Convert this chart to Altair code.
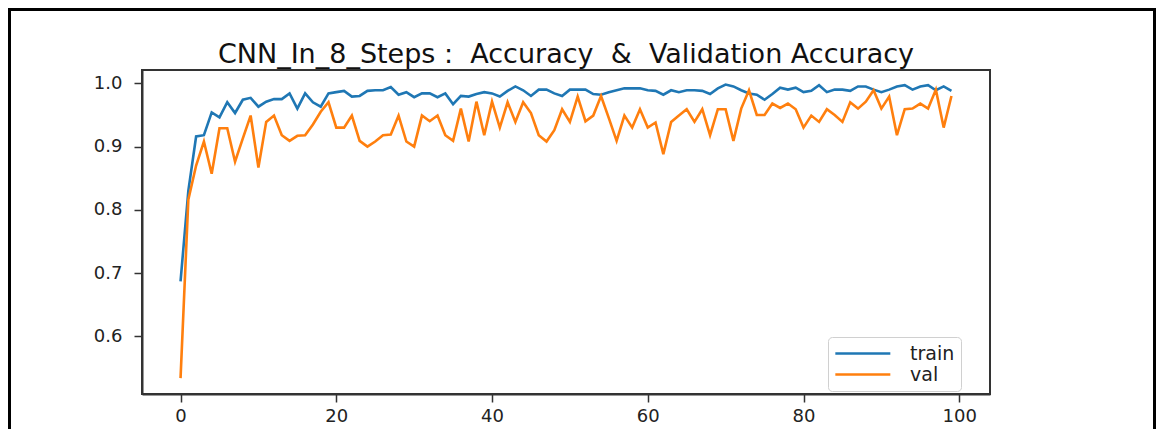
import altair as alt
import pandas as pd

epochs = list(range(100))
train = [0.687, 0.830, 0.916, 0.918, 0.954, 0.946, 0.970, 0.953, 0.974, 0.977,
         0.963, 0.971, 0.975, 0.975, 0.984, 0.960, 0.984, 0.970, 0.963, 0.984,
         0.986, 0.988, 0.979, 0.980, 0.988, 0.989, 0.989, 0.994, 0.982, 0.986,
         0.978, 0.984, 0.984, 0.978, 0.984, 0.967, 0.980, 0.979, 0.983, 0.986,
         0.984, 0.979, 0.988, 0.995, 0.989, 0.980, 0.990, 0.990, 0.984, 0.980,
         0.990, 0.990, 0.990, 0.983, 0.982, 0.986, 0.989, 0.992, 0.992, 0.992,
         0.989, 0.988, 0.982, 0.989, 0.986, 0.989, 0.989, 0.988, 0.983, 0.992,
         0.998, 0.995, 0.989, 0.984, 0.982, 0.974, 0.983, 0.993, 0.990, 0.993,
         0.986, 0.988, 0.997, 0.986, 0.990, 0.990, 0.988, 0.995, 0.995, 0.990,
         0.986, 0.990, 0.995, 0.997, 0.990, 0.995, 0.997, 0.989, 0.995, 0.988]
val = [0.534, 0.816, 0.870, 0.908, 0.857, 0.929, 0.929, 0.876, 0.913, 0.949,
       0.867, 0.939, 0.949, 0.918, 0.909, 0.917, 0.918, 0.935, 0.955, 0.970,
       0.930, 0.930, 0.949, 0.909, 0.900, 0.908, 0.918, 0.919, 0.949, 0.908,
       0.900, 0.949, 0.940, 0.949, 0.918, 0.909, 0.960, 0.908, 0.971, 0.918,
       0.971, 0.930, 0.970, 0.939, 0.970, 0.953, 0.918, 0.908, 0.926, 0.959,
       0.939, 0.979, 0.940, 0.949, 0.980, 0.945, 0.909, 0.949, 0.930, 0.959,
       0.930, 0.938, 0.888, 0.939, 0.949, 0.959, 0.939, 0.959, 0.918, 0.959,
       0.959, 0.909, 0.960, 0.989, 0.950, 0.950, 0.968, 0.961, 0.968, 0.959,
       0.930, 0.949, 0.939, 0.959, 0.950, 0.939, 0.970, 0.960, 0.971, 0.989,
       0.960, 0.979, 0.918, 0.959, 0.960, 0.968, 0.960, 0.990, 0.930, 0.980]
series_names = ["train", "val"]
series_colors = ["#1f77b4", "#ff7f0e"]
x_ticks = [0, 20, 40, 60, 80, 100]
y_ticks = [0.6, 0.7, 0.8, 0.9, 1.0]
# non-breaking spaces keep the double spacing of the original title
title_text = "CNN_In_8_Steps :\u00a0 Accuracy \u00a0&\u00a0 Validation Accuracy"

df = pd.DataFrame({
    "epoch": epochs * 2,
    "value": train + val,
    "series": ["train"] * len(train) + ["val"] * len(val),
})

FONT = "DejaVu Sans"

lines = alt.Chart(df).mark_line(strokeWidth=2.6, clip=True).encode(
    x=alt.X("epoch:Q",
            scale=alt.Scale(domain=[-4.95, 103.95], nice=False, zero=False),
            axis=alt.Axis(values=x_ticks, format="d", title=None, grid=False,
                          tickSize=8, tickWidth=1.5, tickColor="#333",
                          domainColor="#333", domainWidth=2,
                          labelPadding=5, labelFontSize=18, labelFont=FONT,
                          labelColor="#222")),
    y=alt.Y("value:Q",
            scale=alt.Scale(domain=[0.509, 1.021], nice=False, zero=False),
            axis=alt.Axis(values=y_ticks, format=".1f", title=None, grid=False,
                          tickSize=8, tickWidth=1.5, tickColor="#333",
                          domainColor="#333", domainWidth=2,
                          labelPadding=12, labelFontSize=18, labelFont=FONT,
                          labelColor="#222")),
    color=alt.Color("series:N",
                    scale=alt.Scale(domain=series_names, range=series_colors),
                    legend=alt.Legend(title=None, orient="none",
                                      legendX=686, legendY=267,
                                      symbolType="M-1,0H5", symbolSize=336,
                                      symbolStrokeWidth=2.5,
                                      symbolFillColor="transparent",
                                      labelFontSize=19, labelFont=FONT,
                                      labelColor="#222",
                                      padding=6, strokeColor="#d0d0d0",
                                      fillColor="white", cornerRadius=4,
                                      rowPadding=0, labelOffset=55)),
)

frame_left = alt.Chart(df).mark_rule(color="black", strokeWidth=3).encode(
    x=alt.value(-132.5), y=alt.value(-62), y2=alt.value(360))
frame_top = alt.Chart(df).mark_rule(color="black", strokeWidth=3).encode(
    y=alt.value(-60.5), x=alt.value(-134), x2=alt.value(1014))
frame_right = alt.Chart(df).mark_rule(color="black", strokeWidth=3).encode(
    x=alt.value(1012.5), y=alt.value(-62), y2=alt.value(360))

chart = alt.layer(lines, frame_left, frame_top, frame_right).properties(
    width=848, height=324,
    padding={"left": 134, "top": 62, "right": 166, "bottom": 35},
    autosize=alt.AutoSizeParams(type="none"),
    title=alt.TitleParams(title_text, font=FONT, fontSize=27, fontWeight="normal",
                          color="#111", anchor="middle", baseline="alphabetic",
                          frame="group", offset=-83),
).configure_view(stroke="#333", strokeWidth=2)

chart.save("out.html", embed_options={"renderer": "svg", "actions": False})
